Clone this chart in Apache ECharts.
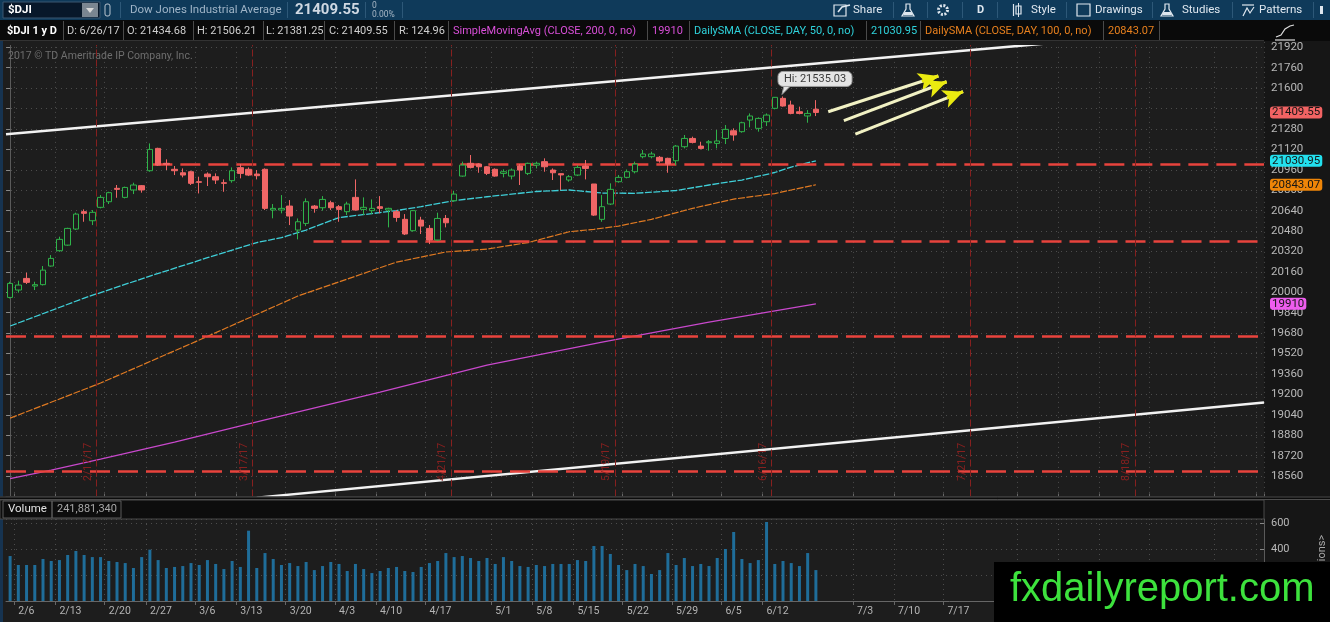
<!DOCTYPE html>
<html>
<head>
<meta charset="utf-8">
<title>$DJI 1 y D</title>
<script src="https://cdn.jsdelivr.net/npm/echarts@6.0.0/dist/echarts.min.js"></script>
<style>
html,body{margin:0;padding:0;background:#1d1d1d;}
#main{width:1330px;height:622px;}
</style>
</head>
<body>
<div id="main"></div>
<script>
// ---- values ----
var slotCount = 153;   // 99 trading days + empty space on the right
var tickIdx = [1, 6, 12, 17, 23, 28, 34, 40, 45, 51, 59, 64, 69, 75, 81, 87, 92, 103, 108, 114, 123, 128, 133, 139, 147, 152];
var tickLabels = ['2/6','2/13','2/20','2/27','3/6','3/13','3/20','4/3','4/10','4/17','5/1','5/8','5/15','5/22','5/29','6/5','6/12','7/3','7/10','7/17','7/24','7/31','8/7','8/14','8/21','8/28'];

var opens  = [19960,20018,20109,20049,20060,20206,20326,20370,20496,20632,20561,20666,20710,20815,20744,20802,20836,20953,21128,21011,
              20964,20937,20945,20867,20927,20906,20859,20875,20977,20964,20927,20964,20645,20645,20676,20488,20540,20676,20663,20702,
              20671,20632,20744,20650,20640,20671,20645,20632,20572,20483,20566,20501,20410,20579,20718,20911,21011,21005,20984,20964,
              20932,20911,20990,20932,20997,21024,20958,20930,20880,20919,20990,20849,20572,20692,20867,20901,20945,21063,21063,21058,
              21050,21031,21141,21206,21146,21172,21167,21206,21266,21259,21350,21285,21337,21442,21520,21468,21415,21382,21434.68];
var closes = [20070,20057,20078,20060,20174,20266,20415,20501,20613,20619,20627,20744,20781,20807,20822,20841,20802,21120,20997,21003,
              20953,20919,20854,20862,20906,20880,20854,20953,20932,20919,20914,20658,20658,20658,20598,20553,20710,20658,20728,20663,
              20650,20692,20645,20666,20658,20658,20658,20587,20457,20640,20519,20410,20579,20545,20770,20997,20979,20984,20932,20911,
              20945,20958,20958,21011,21011,20984,20937,20920,20906,20979,20971,20605,20671,20807,20901,20945,21005,21084,21084,21029,
              21005,21146,21206,21175,21128,21180,21186,21277,21233,21329,21382,21363,21389,21528,21460,21402,21402,21402,21409.55];
var lows   = [19952,19997,20065,20018,20054,20201,20318,20365,20488,20553,20527,20658,20692,20741,20736,20770,20781,20945,20990,20958,
              20919,20901,20841,20775,20833,20849,20788,20859,20893,20911,20885,20645,20580,20619,20527,20415,20519,20624,20640,20645,
              20553,20606,20640,20606,20613,20619,20509,20553,20449,20475,20457,20378,20404,20509,20710,20906,20971,20937,20919,20906,
              20901,20885,20841,20919,20971,20945,20880,20801,20867,20911,20885,20598,20553,20684,20859,20893,20932,21050,21050,21016,
              20937,20997,21128,21167,21120,21110,21128,21162,21188,21251,21293,21259,21303,21434,21455,21395,21395,21329,21381.25];
var highs  = [20083,20091,20154,20083,20206,20292,20436,20506,20624,20650,20645,20762,20788,20841,20828,20859,20841,21167,21133,21042,
              20990,20971,20953,20906,20940,20932,20885,20979,21005,20979,20958,20971,20692,20762,20723,20579,20736,20684,20754,20718,
              20684,20710,20885,20744,20728,20754,20663,20645,20613,20645,20592,20527,20624,20606,20796,21024,21076,21011,20990,20971,
              20964,20971,21005,21016,21024,21050,20971,20932,20919,20997,21037,20849,20762,20854,20919,20963,21024,21115,21102,21068,
              21055,21154,21233,21220,21180,21193,21272,21311,21285,21337,21402,21371,21402,21530,21535.03,21502,21455,21428,21506.21];

// volume in millions
var volumes = [346,277,277,277,323,308,315,354,385,354,338,338,308,300,292,254,338,395,315,254,
               262,269,292,277,315,285,246,308,262,541,254,369,323,277,292,269,300,238,269,300,
               285,231,285,246,215,231,254,262,231,223,262,292,308,369,338,346,331,308,331,285,
               338,308,269,262,277,269,285,285,285,315,308,423,423,362,277,238,285,269,208,238,
               369,277,331,269,285,269,331,400,531,323,292,315,608,285,308,292,269,369,238];

var sma50Idx  = [0, 9, 17, 24, 30, 33, 36, 40, 44, 47, 50, 54, 58, 64, 68, 72, 76, 81, 85, 89, 93, 95, 98];
var sma50     = [19736,19955,20127,20271,20390,20429,20488,20586,20617,20641,20671,20719,20749,20790,20802,20778,20776,20798,20841,20880,20939,20982,21030.95];
var sma100Idx = [0, 11, 23, 35, 47, 53, 58, 63, 68, 71, 74, 78, 83, 88, 93, 95, 98];
var sma100    = [19014,19289,19626,19971,20237,20316,20339,20390,20475,20494,20519,20572,20658,20731,20774,20802,20843.07];
var sma200Idx = [0, 5, 11, 20, 31, 45, 58, 72, 85, 98];
var sma200    = [18540,18607,18693,18826,19000,19218,19430,19610,19767,19910];

// hand-drawn studies: [slot, price]
var trendTop    = [[-0.5, 21238], [152.5, 22099]];
var trendBottom = [[30, 18391], [152.5, 19137]];
var levels      = [21005, 20404, 19657, 18601];
var levelStart  = [17.3, 36.9, -0.5, -0.5];
var expiryPos    = [10.5, 29.5, 53.6, 73.6, 92.6, 116.8, 136.8];
var expiryLabels = ['2/17/17','3/17/17','4/21/17','5/19/17','6/16/17','7/21/17','8/18/17'];
var arrows = [
  [[99.5, 21415], [112.9, 21695]],
  [[101.4, 21345], [113.9, 21650]],
  [[102.8, 21240], [115.9, 21572]]
];
var hiPoint = [94, 21535.03];

// ---- build ----
var categories = [];
for (var i = 0; i < slotCount; i++) categories.push(String(i));
var labelAt = {};
tickIdx.forEach(function (t, k) { labelAt[t] = tickLabels[k]; });
function isTick(i) { return labelAt[i] !== undefined; }

var candles = opens.map(function (o, k) { return [o, closes[k], lows[k], highs[k]]; });
function pairs(idx, vals) { return idx.map(function (x, k) { return [x, vals[k]]; }); }

var tagPrices = [closes[closes.length - 1], sma50[sma50.length - 1], sma100[sma100.length - 1], sma200[sma200.length - 1]];
// the platform drops a scale label when a value tag sits on it
function priceLabel(v) {
  for (var k = 0; k < tagPrices.length; k++) if (Math.abs(v - tagPrices[k]) < 40) return '';
  return String(v);
}

var FONT = 'Roboto';
var markData = [];
levels.forEach(function (p, k) {
  var ls = {color: '#e8433d', width: 2.5, type: [20, 8]};
  markData.push([{coord: [levelStart[k], p], lineStyle: ls}, {coord: [slotCount - 0.5, p], lineStyle: ls}]);
});
expiryPos.forEach(function (v) {
  markData.push({xAxis: v, lineStyle: {color: '#86201f', width: 1, type: [7, 3]}});
});
arrows.forEach(function (a) {
  var shaft = {color: '#f2f2c4', width: 3, type: 'solid'};
  markData.push([{coord: a[0], lineStyle: shaft}, {coord: a[1], lineStyle: shaft}]);
  var near = [a[0][0] + 0.85 * (a[1][0] - a[0][0]), a[0][1] + 0.85 * (a[1][1] - a[0][1])];
  var head = {color: '#eaea10', width: 3, type: 'solid'};
  markData.push([{coord: near, lineStyle: head, symbol: 'none'},
                 {coord: a[1], lineStyle: head, symbol: 'arrow', symbolSize: [14, 20]}]);
});

var chart = echarts.init(document.getElementById('main'));
var option = {
  backgroundColor: '#1d1d1d',
  animation: false,
  grid: [
    {left: 6, right: 66, top: 26.9, height: 469.6, outerBoundsMode: 'none'},
    {left: 6, right: 66, top: 519, height: 82, outerBoundsMode: 'none'}
  ],
  xAxis: [
    {type: 'category', gridIndex: 0, data: categories, boundaryGap: true,
     axisLine: {show: true, lineStyle: {color: '#454545'}},
     axisTick: {show: true, inside: true, length: 3, interval: isTick, lineStyle: {color: '#666'}},
     axisLabel: {show: false},
     splitLine: {show: true, interval: isTick, lineStyle: {color: '#4c4c4c', type: [1, 4]}}},
    {type: 'value', gridIndex: 0, min: -0.5, max: slotCount - 0.5, show: false, splitLine: {show: false}},
    {type: 'category', gridIndex: 1, data: categories, boundaryGap: true,
     axisLine: {show: true, lineStyle: {color: '#666'}},
     axisTick: {show: true, length: 4, interval: isTick, lineStyle: {color: '#666'}},
     axisLabel: {show: true, interval: isTick, formatter: function (v, i) { return labelAt[i] || ''; },
                 color: '#b4b4b4', fontFamily: FONT, fontSize: 10.5, align: 'left', margin: 5},
     splitLine: {show: true, interval: isTick, lineStyle: {color: '#4c4c4c', type: [1, 4]}}}
  ],
  yAxis: [
    {type: 'value', gridIndex: 0, position: 'right', min: 18400, max: 22080, interval: 160,
     axisLine: {show: true, lineStyle: {color: '#5a5a5a'}},
     axisTick: {show: true, inside: true, length: 4, lineStyle: {color: '#888'}},
     axisLabel: {color: '#b8b8b8', fontFamily: FONT, fontSize: 11.5, margin: 7, showMinLabel: false, showMaxLabel: false,
                 formatter: priceLabel},
     splitLine: {show: true, lineStyle: {color: '#4c4c4c', type: [1, 4]}}},
    {type: 'value', gridIndex: 1, position: 'right', min: 0, max: 631, interval: 200,
     axisLine: {show: true, lineStyle: {color: '#5a5a5a'}},
     axisTick: {show: true, inside: true, length: 4, lineStyle: {color: '#888'}},
     axisLabel: {color: '#b8b8b8', fontFamily: FONT, fontSize: 11, margin: 7, showMaxLabel: false,
                 formatter: function (v) { return String(v); }},
     splitLine: {show: true, lineStyle: {color: '#4c4c4c', type: [1, 4]}}}
  ],
  series: [
    {type: 'line', name: 'SMA200', xAxisIndex: 1, yAxisIndex: 0, data: pairs(sma200Idx, sma200),
     symbol: 'none', silent: true, lineStyle: {color: '#c848cc', width: 1.2}},
    {type: 'line', name: 'SMA100', xAxisIndex: 1, yAxisIndex: 0, data: pairs(sma100Idx, sma100),
     symbol: 'none', silent: true, lineStyle: {color: '#e07a22', width: 1.2, type: [7, 1.5]}},
    {type: 'line', name: 'SMA50', xAxisIndex: 1, yAxisIndex: 0, data: pairs(sma50Idx, sma50),
     symbol: 'none', silent: true, lineStyle: {color: '#3fcfd8', width: 1.3, type: [7, 1.5]}},
    {type: 'line', name: 'trendTop', xAxisIndex: 1, yAxisIndex: 0, data: trendTop,
     symbol: 'none', silent: true, lineStyle: {color: '#f2f2f2', width: 2.5},
     markLine: {silent: true, symbol: ['none', 'none'], label: {show: false}, data: markData}},
    {type: 'line', name: 'trendBottom', xAxisIndex: 1, yAxisIndex: 0, data: trendBottom,
     symbol: 'none', silent: true, lineStyle: {color: '#f2f2f2', width: 2.5}},
    {type: 'candlestick', name: '$DJI', xAxisIndex: 0, yAxisIndex: 0, data: candles, barWidth: 6, silent: true, z: 5,
     itemStyle: {color: '#1d1d1d', color0: '#f06666', borderColor: '#2fb34a', borderColor0: '#f06666', borderWidth: 1}},
    {type: 'bar', name: 'Volume', xAxisIndex: 2, yAxisIndex: 1, data: volumes, barWidth: 3, silent: true,
     itemStyle: {color: '#1f6d99'}}
  ]
};
chart.setOption(option);

// ---- chrome: toolbar, study header, tags ----
function T(x, y, s, st, extra) {
  var el = {type: 'text', x: x, y: y, z: 110,
            style: Object.assign({text: s, fill: '#d0d0d0', fontFamily: FONT, fontSize: 11, verticalAlign: 'middle', align: 'left'}, st || {})};
  return Object.assign(el, extra || {});
}
function R(x, y, w, h, st, z, r) {
  return {type: 'rect', z: z === undefined ? 105 : z, shape: {x: x, y: y, width: w, height: h, r: r || 0}, style: st};
}
function L(x1, y1, x2, y2, c, w, z) {
  return {type: 'line', z: z === undefined ? 108 : z, shape: {x1: x1, y1: y1, x2: x2, y2: y2}, style: {stroke: c, lineWidth: w || 1}};
}

var g = [];
// right axis column and left edge
g.push(R(1264, 41, 66, 581, {fill: '#161616'}, -10));
g.push(R(0, 41, 3, 581, {fill: '#163350'}, 105));
// plot top margin (price pane starts a few px under the header)
g.push(R(3, 40.5, 1261, 4.5, {fill: '#1d1d1d'}, 104));
// toolbar row
g.push(R(0, 0, 1330, 20, {fill: '#0f3a5a'}));
g.push(R(3, 2, 97, 16, {fill: '#08182a', stroke: '#3b5670', lineWidth: 1}));
g.push(T(8, 10.5, '$DJI', {fill: '#ffffff', fontWeight: 'bold', fontSize: 11.5}));
g.push(R(82, 3, 16, 14, {fill: '#7b8691'}, 106));
g.push({type: 'polygon', z: 108, shape: {points: [[86, 8], [94, 8], [90, 13]]}, style: {fill: '#d8d8d8'}});
g.push(R(105, 4, 5, 12, {fill: 'none', stroke: '#b8c4cf', lineWidth: 1}, 106, 2));
g.push(L(120.5, 2, 120.5, 18, '#2d5878'));
g.push(T(130, 10.5, 'Dow Jones Industrial Average', {fill: '#9fb4c7', fontSize: 11.5}));
g.push(L(287.5, 2, 287.5, 18, '#2d5878'));
g.push(T(295, 10.5, '21409.55', {fill: '#cfd8e2', fontWeight: 'bold', fontSize: 15}));
g.push(L(365.5, 2, 365.5, 18, '#2d5878'));
g.push(T(372, 5.5, '0', {fill: '#a9b8c6', fontSize: 8.5}));
g.push(T(372, 14.5, '0.00%', {fill: '#a9b8c6', fontSize: 8.5}));
g.push(L(402.5, 2, 402.5, 18, '#2d5878'));
// toolbar right side
g.push(R(834, 5, 12, 11, {fill: 'none', stroke: '#dfe7ef', lineWidth: 1.2}, 106));
g.push({type: 'polyline', z: 108, shape: {points: [[838, 12], [842, 7], [850, 5]]}, style: {stroke: '#dfe7ef', lineWidth: 1.6, fill: 'none'}});
g.push(T(853, 10.5, 'Share', {fill: '#dfe7ef', fontSize: 11.5}));
[893, 927, 962, 997, 1066, 1152, 1232].forEach(function (x) { g.push(L(x + 0.5, 2, x + 0.5, 18, '#2d5878')); });
function flask(x) {
  g.push({type: 'polygon', z: 108, shape: {points: [[x - 2, 4], [x + 2, 4], [x + 2, 9], [x + 6, 16], [x - 6, 16], [x - 2, 9]]},
          style: {fill: 'none', stroke: '#dfe7ef', lineWidth: 1.2}});
  g.push({type: 'polygon', z: 108, shape: {points: [[x - 3.5, 12], [x + 3.5, 12], [x + 5, 15], [x - 5, 15]]}, style: {fill: '#dfe7ef'}});
}
flask(908);
g.push({type: 'circle', z: 108, shape: {cx: 943, cy: 10, r: 4.5}, style: {fill: 'none', stroke: '#dfe7ef', lineWidth: 3, lineDash: [2, 1.5]}});
g.push({type: 'circle', z: 109, shape: {cx: 943, cy: 10, r: 1.5}, style: {fill: '#0f3a5a'}});
g.push(T(977, 10.5, 'D', {fill: '#dfe7ef', fontWeight: 'bold', fontSize: 11}));
g.push(L(1013.5, 4, 1013.5, 16, '#dfe7ef', 1.2));
g.push(R(1016, 6, 5, 8, {fill: 'none', stroke: '#dfe7ef', lineWidth: 1.2}, 106));
g.push(L(1018.5, 3, 1018.5, 17, '#dfe7ef', 1));
g.push(T(1031, 10.5, 'Style', {fill: '#dfe7ef', fontSize: 11.5}));
g.push(R(1077, 4, 13, 12, {fill: 'none', stroke: '#dfe7ef', lineWidth: 1.2}, 106));
g.push(T(1095, 10.5, 'Drawings', {fill: '#dfe7ef', fontSize: 11.5}));
flask(1167);
g.push(T(1182, 10.5, 'Studies', {fill: '#dfe7ef', fontSize: 11.5}));
g.push({type: 'polyline', z: 108, shape: {points: [[1242, 5], [1254, 5]]}, style: {stroke: '#dfe7ef', lineWidth: 1.2}});
g.push({type: 'polyline', z: 108, shape: {points: [[1243, 16], [1247, 8], [1250, 13], [1254, 7]]}, style: {stroke: '#dfe7ef', lineWidth: 1.2, fill: 'none'}});
g.push(T(1259, 10.5, 'Patterns', {fill: '#dfe7ef', fontSize: 11.5}));
g.push(L(1313.5, 2, 1313.5, 18, '#2d5878'));
g.push(R(1320, 6, 3, 8, {fill: '#dfe7ef'}, 106));

// study header row
g.push(R(0, 20, 1330, 21, {fill: '#0a0a0a'}));
g.push(L(0, 40.5, 1264, 40.5, '#333333'));
var hdr = [
  [7, '$DJI 1 y D', '#ffffff', 'bold'], [67, 'D: 6/26/17', '#cfcfcf'], [127, 'O: 21434.68', '#cfcfcf'],
  [197, 'H: 21506.21', '#cfcfcf'], [266, 'L: 21381.25', '#cfcfcf'], [329, 'C: 21409.55', '#cfcfcf'],
  [399, 'R: 124.96', '#cfcfcf'], [453, 'SimpleMovingAvg (CLOSE, 200, 0, no)', '#d84fd8'],
  [652, '19910', '#d84fd8'], [694, 'DailySMA (CLOSE, DAY, 50, 0, no)', '#2fd3dc'],
  [871, '21030.95', '#2fd3dc'], [925, 'DailySMA (CLOSE, DAY, 100, 0, no)', '#e8801e'],
  [1108, '20843.07', '#e8801e']
];
hdr.forEach(function (h) { g.push(T(h[0], 31, h[1], {fill: h[2], fontWeight: h[3] || 'normal', fontSize: 11})); });
[63, 123, 193, 263, 324, 394, 448, 647, 689, 866, 920, 1103, 1159].forEach(function (x) { g.push(L(x + 0.5, 21, x + 0.5, 40, '#4a4a4a')); });
g.push({type: 'polyline', z: 110, shape: {points: [[1276, 37], [1281, 35], [1285, 29], [1290, 26], [1294, 25]]}, style: {stroke: '#dddddd', lineWidth: 1.2, fill: 'none'}});
g.push(L(1275, 40, 1295, 40, '#dddddd', 1.2, 110));

g.push(T(8, 56, '2017 \u00a9 TD Ameritrade IP Company, Inc.', {fill: '#6e6e6e', fontSize: 10.5}, {z: 4}));

// pane separator and volume header
g.push(R(0, 496.5, 1330, 3.5, {fill: '#0b0b0b'}));
g.push(L(0, 497, 1330, 497, '#4d4d4d'));
g.push(L(0, 499.5, 1330, 499.5, '#4d4d4d'));
g.push(R(0, 500, 1264, 19, {fill: '#0d0d0d', stroke: '#4a4a4a', lineWidth: 1}));
g.push(R(3, 501, 49, 17, {fill: 'none', stroke: '#5a5a5a', lineWidth: 1}, 106));
g.push(T(8, 509.5, 'Volume', {fill: '#e2e2e2', fontSize: 11.5}));
g.push(R(52, 501, 69, 17, {fill: 'none', stroke: '#5a5a5a', lineWidth: 1}, 106));
g.push(T(57, 509.5, '241,881,340', {fill: '#a8a8a8', fontSize: 11}));
g.push(T(1322, 548, 'ions>', {fill: '#a8a8a8', fontSize: 11, verticalAlign: 'middle', align: 'center'}, {rotation: Math.PI / 2}));

// watermark
g.push(R(994, 562, 336, 60, {fill: '#000000'}, 120));
g.push(T(1010, 590, 'fxdailyreport.com', {fill: '#3de23d', fontFamily: 'Liberation Sans', fontSize: 40}, {z: 121}));

// expiry labels
expiryPos.forEach(function (v, k) {
  var p = chart.convertToPixel({xAxisIndex: 1, yAxisIndex: 0}, [v, 18500]);
  g.push(T(p[0] - 3, 481, expiryLabels[k], {fill: '#86201f', fontSize: 10.5, align: 'left', verticalAlign: 'bottom'},
           {rotation: Math.PI / 2, z: 6}));
});

// Hi bubble
var hp = chart.convertToPixel({xAxisIndex: 1, yAxisIndex: 0}, hiPoint);
g.push({type: 'polygon', z: 111, shape: {points: [[hp[0] + 1, hp[1] - 11], [hp[0] + 8, hp[1] - 11], [hp[0] - 1, hp[1] - 2]]},
        style: {fill: '#e4e4e4', stroke: '#9a9a9a', lineWidth: 1}});
g.push(R(hp[0] - 5, hp[1] - 25, 74, 15, {fill: '#e4e4e4', stroke: '#9a9a9a', lineWidth: 1}, 112, 5));
g.push(T(hp[0] + 1, hp[1] - 17.5, 'Hi: 21535.03', {fill: '#3a3a3a', fontSize: 11}, {z: 113}));

// right-axis value tags
var tagTexts = ['21409.55', '21030.95', '20843.07', '19910'];
var tagColors = ['#f26363', '#22e0ee', '#ee8508', '#ee5cee'];
tagPrices.forEach(function (price, k) {
  var p = chart.convertToPixel({xAxisIndex: 1, yAxisIndex: 0}, [0, price]);
  g.push(T(1270, p[1], tagTexts[k], {fill: '#151515', fontSize: 11.5, backgroundColor: tagColors[k], padding: [0, 2, 0, 2],
                                      borderRadius: 3, lineHeight: 12}, {z: 115}));
});

chart.setOption({graphic: g});
</script>
</body>
</html>
